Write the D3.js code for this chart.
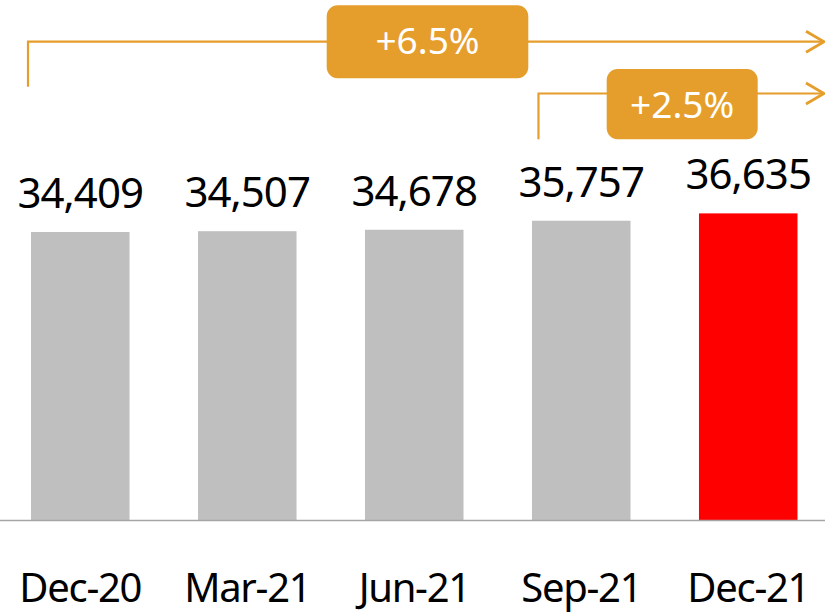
<!DOCTYPE html>
<html>
<head>
<meta charset="utf-8">
<script src="https://cdn.jsdelivr.net/npm/d3@7"></script>
<style>
  html, body { margin: 0; padding: 0; background: #fff; }
  svg { display: block; }
  text { font-family: "Noto Sans", "Open Sans", sans-serif; }
</style>
</head>
<body>
<svg id="chart" width="825" height="612"></svg>
<script>
// ---- data ----
const categories = ["Dec-20", "Mar-21", "Jun-21", "Sep-21", "Dec-21"];
const values = [34409, 34507, 34678, 35757, 36635];
const highlight = [false, false, false, false, true];
const growthLabels = ["+6.5%", "+2.5%"];
const growthFrom = ["Dec-20", "Sep-21"];

// ---- layout ----
const W = 825, H = 612;
const baseY = 520;
const grey = "#BFBFBF", red = "#FF0000", orange = "#E59E2B";
const svg = d3.select("#chart");

const x = d3.scaleBand().domain(categories).range([31, 797.5]).paddingInner(0.41).paddingOuter(0);
const y = d3.scaleLinear().domain([0, 62130]).range([baseY, 0]);
const fmt = d3.format(",");

// bars
svg.append("g").selectAll("rect").data(categories).join("rect")
  .attr("x", d => x(d))
  .attr("y", (d, i) => y(values[i]))
  .attr("width", x.bandwidth())
  .attr("height", (d, i) => y(0) - y(values[i]))
  .attr("fill", (d, i) => highlight[i] ? red : grey);

// baseline
svg.append("line").attr("x1", 0).attr("x2", W).attr("y1", baseY + 0.5).attr("y2", baseY + 0.5)
  .attr("stroke", "#A6A6A6").attr("stroke-width", 1.5);

// value labels
svg.append("g").selectAll("text").data(categories).join("text")
  .attr("x", d => x(d) + x.bandwidth() / 2)
  .attr("y", (d, i) => y(values[i]) - 24)
  .attr("text-anchor", "middle")
  .attr("font-size", 42)
  .attr("letter-spacing", -1)
  .attr("fill", "#000")
  .text((d, i) => fmt(values[i]));

// axis labels
const xAxis = d3.axisBottom(x).tickSize(0).tickPadding(0);
const ax = svg.append("g").attr("transform", `translate(0,${baseY})`).call(xAxis);
ax.select(".domain").remove();
ax.selectAll("text")
  .attr("y", 81.5).attr("dy", null)
  .attr("font-size", 40)
  .attr("letter-spacing", -1.3)
  .attr("font-family", "Noto Sans, Open Sans, sans-serif")
  .attr("fill", "#000");

// growth annotations
const ann = [
  { lineY: 41.7, startOff: -3, drop: 86.7, boxCx: 427.5, boxY: 5.3, boxW: 201.6, boxH: 73, textY: 54 },
  { lineY: 93.5, startOff: 6.5, drop: 139.3, boxCx: 682.2, boxY: 69, boxW: 151, boxH: 70.3, textY: 118.3 }
];
const tipX = 824;
ann.forEach((a, k) => {
  const g = svg.append("g");
  const sx = x(growthFrom[k]) + a.startOff;
  g.append("path")
    .attr("d", `M${sx},${a.drop} V${a.lineY} H${tipX}`)
    .attr("fill", "none").attr("stroke", orange).attr("stroke-width", 2.2);
  g.append("path")
    .attr("d", `M${tipX - 18},${a.lineY - 10.5} L${tipX},${a.lineY} L${tipX - 18},${a.lineY + 10.5}`)
    .attr("fill", "none").attr("stroke", orange).attr("stroke-width", 2.8);
  g.append("rect")
    .attr("x", a.boxCx - a.boxW / 2).attr("y", a.boxY)
    .attr("width", a.boxW).attr("height", a.boxH)
    .attr("rx", 11).attr("fill", orange);
  g.append("text")
    .attr("x", a.boxCx).attr("y", a.textY)
    .attr("text-anchor", "middle")
    .attr("font-size", 37)
    .attr("fill", "#fff")
    .text(growthLabels[k]);
});
</script>
</body>
</html>
